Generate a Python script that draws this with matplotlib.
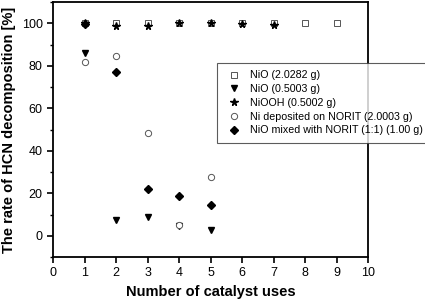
import numpy as np
import matplotlib
matplotlib.use("Agg")
import matplotlib.pyplot as plt
from matplotlib.ticker import MultipleLocator

plt.rcParams['font.family'] = ['Liberation Sans', 'DejaVu Sans']

# data
nio_big_x = [1, 2, 3, 4, 5, 6, 7, 8, 9]
nio_big_y = [100, 100, 100, 100, 100, 100, 100, 100, 100]
nio_small_x = [1, 2, 3, 4, 5]
nio_small_y = [86, 7.5, 9, 4.5, 2.5]
niooh_x = [1, 2, 3, 4, 5, 6, 7]
niooh_y = [100, 98.7, 98.7, 100, 100, 99.5, 99]
ni_norit_x = [1, 2, 3, 4, 5]
ni_norit_y = [82, 84.5, 48.4, 5.2, 27.7]
nio_mix_x = [1, 2, 3, 4, 5]
nio_mix_y = [99.5, 77, 22.2, 18.6, 14.4]

fig = plt.figure(figsize=(4.25, 3.06), dpi=100)
ax = fig.add_axes([53/425, 1 - 257/306, (368-53)/425, (257-2)/306])

ax.plot(nio_big_x, nio_big_y, 's', mfc='white', mec='#555555', ms=4, mew=0.7,
        label='NiO (2.0282 g)')
ax.plot(nio_small_x, nio_small_y, 'v', color='black', ms=4.5,
        label='NiO (0.5003 g)')
ax.plot(niooh_x, niooh_y, '*', color='black', ms=5.5,
        label='NiOOH (0.5002 g)')
ax.plot(ni_norit_x, ni_norit_y, 'o', mfc='white', mec='#555555', ms=4.5, mew=0.7,
        label='Ni deposited on NORIT (2.0003 g)')
ax.plot(nio_mix_x, nio_mix_y, 'D', color='black', ms=4,
        label='NiO mixed with NORIT (1:1) (1.00 g)')

ax.set_xlim(0, 10)
ax.set_ylim(-10, 110)
ax.xaxis.set_major_locator(MultipleLocator(1))
ax.yaxis.set_major_locator(MultipleLocator(20))
ax.yaxis.set_minor_locator(MultipleLocator(10))
ax.tick_params(direction='out', labelsize=9, width=1.2, length=4)
ax.tick_params(which='minor', direction='out', width=1.0, length=2.5)
ax.set_yticks([0, 20, 40, 60, 80, 100])
for s in ax.spines.values():
    s.set_linewidth(1.3)

ax.set_xlabel('Number of catalyst uses', fontsize=10.5, fontweight='bold')
ax.set_ylabel('The rate of HCN decomposition [%]', fontsize=10.5, fontweight='bold')

leg = ax.legend(loc='upper left', bbox_to_anchor=(217/425, 1 - 63/306),
                bbox_transform=fig.transFigure, fontsize=7.7, frameon=True,
                fancybox=False, edgecolor='#333333', handletextpad=0.6,
                borderpad=0.7, labelspacing=0.35, handlelength=1.8,
                borderaxespad=0)
leg.get_frame().set_linewidth(0.8)

fig.savefig('out.png', dpi=100)
